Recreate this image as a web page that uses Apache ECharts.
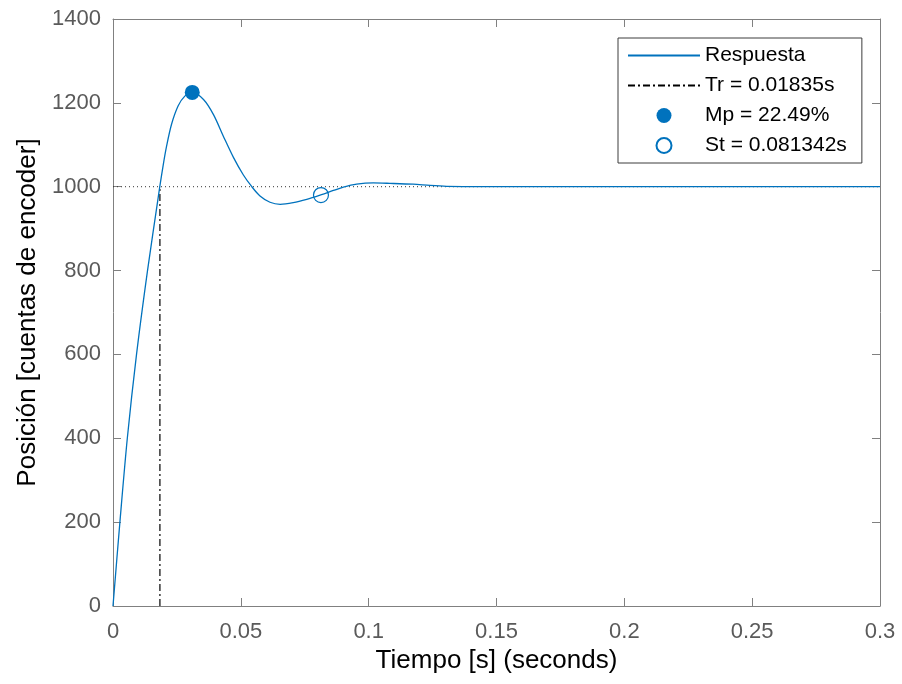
<!DOCTYPE html>
<html>
<head>
<meta charset="utf-8">
<script src="https://cdn.jsdelivr.net/npm/echarts@6/dist/echarts.min.js"></script>
<style>
html,body{margin:0;padding:0;background:#fff;}
#chart{width:902px;height:684px;}
</style>
</head>
<body>
<div id="chart"></div>
<script>
// Time (s) and response (encoder counts)
const time = [0, 0.0027, 0.0056, 0.0092, 0.0135, 0.0177, 0.0183, 0.0197, 0.0209, 0.0229, 0.0255, 0.0281, 0.031, 0.0354, 0.0393, 0.0432, 0.0471, 0.051, 0.0543, 0.0575, 0.0614, 0.0654, 0.0705, 0.0758, 0.081, 0.0862, 0.0901, 0.0953, 0.1018, 0.1083, 0.1174, 0.124, 0.1305, 0.1435, 0.16, 0.2, 0.25, 0.3];
const position = [0, 200, 400, 600, 800, 975, 1000, 1054, 1095, 1149, 1193, 1216, 1225, 1208, 1172, 1120, 1070, 1028, 1000, 978, 963, 958, 962, 970, 980, 991, 999, 1006, 1009, 1008, 1006, 1003, 1001, 1000, 1000, 1000, 1000, 1000];

const finalValue = 1000;
const trTime = 0.01835;
const mpTime = 0.031;
const mpValue = 1224.9;
const stTime = 0.081342;
const stValue = 980;

const legendNames = ['Respuesta', 'Tr = 0.01835s', 'Mp = 22.49%', 'St = 0.081342s'];
const xTicks = [0, 0.05, 0.1, 0.15, 0.2, 0.25, 0.3];
const yTicks = [0, 200, 400, 600, 800, 1000, 1200, 1400];

const blue = '#0072BD';
const axisGray = '#808080';
const labelGray = '#5a5a5a';
const FONT = '"Liberation Sans", Arial, Helvetica, sans-serif';

const chart = echarts.init(document.getElementById('chart'), null, {renderer: 'canvas'});

function fmtX(v) { return String(parseFloat(v.toFixed(4))); }
function fmtY(v) { return String(Math.round(v)); }

const commonX = {
  type: 'value', min: xTicks[0], max: xTicks[xTicks.length - 1], interval: 0.05,
  splitLine: {show: false},
  axisLine: {show: true, onZero: false, lineStyle: {color: axisGray, width: 1}},
  axisTick: {show: true, inside: true, length: 8, lineStyle: {color: axisGray}}
};
const commonY = {
  type: 'value', min: yTicks[0], max: yTicks[yTicks.length - 1], interval: 200,
  splitLine: {show: false},
  axisLine: {show: true, onZero: false, lineStyle: {color: axisGray, width: 1}},
  axisTick: {show: true, inside: true, length: 8, lineStyle: {color: axisGray}}
};

chart.setOption({
  animation: false,
  backgroundColor: '#fff',
  textStyle: {fontFamily: FONT},
  grid: {left: 113, right: 22, top: 19, bottom: 78, containLabel: false},
  legend: {
    data: [
      {name: legendNames[0], itemStyle: {opacity: 0}},
      {name: legendNames[1], itemStyle: {opacity: 0}},
      {name: legendNames[2]},
      {name: legendNames[3]}
    ],
    orient: 'vertical',
    left: 618, top: 38,
    itemWidth: 72, itemHeight: 15, itemGap: 9,
    padding: [7, 15, 7, 9],
    borderColor: '#3c3c3c', borderWidth: 1,
    backgroundColor: '#fff',
    textStyle: {fontSize: 21, color: '#000', fontFamily: FONT},
    selectedMode: false
  },
  xAxis: [
    Object.assign({}, commonX, {
      position: 'bottom',
      name: 'Tiempo [s] (seconds)', nameLocation: 'middle', nameGap: 42,
      nameTextStyle: {fontSize: 26, color: '#000', fontFamily: FONT},
      axisLabel: {show: true, fontSize: 22, color: labelGray, margin: 15, formatter: fmtX, fontFamily: FONT}
    }),
    Object.assign({}, commonX, {position: 'top', axisLabel: {show: false}})
  ],
  yAxis: [
    Object.assign({}, commonY, {
      position: 'left',
      name: 'Posición [cuentas de encoder]', nameLocation: 'middle', nameGap: 70,
      nameTextStyle: {fontSize: 26, color: '#000', fontFamily: FONT},
      axisLabel: {show: true, fontSize: 22, color: labelGray, margin: 12, formatter: fmtY, fontFamily: FONT}
    }),
    Object.assign({}, commonY, {position: 'right', axisLabel: {show: false}})
  ],
  series: [
    {
      name: '', type: 'line', xAxisIndex: 0, yAxisIndex: 0,
      data: [[xTicks[0], finalValue], [xTicks[xTicks.length - 1], finalValue]],
      symbol: 'none', silent: true,
      lineStyle: {color: '#333', width: 1, type: [1, 3]}, z: 1
    },
    {
      name: legendNames[0], type: 'line', xAxisIndex: 0, yAxisIndex: 0,
      data: time.map((t, i) => [t, position[i]]),
      symbol: 'none', smooth: 0.3,
      itemStyle: {color: blue},
      lineStyle: {color: blue, width: 1.3}, z: 3
    },
    {
      name: legendNames[1], type: 'line', xAxisIndex: 0, yAxisIndex: 0,
      data: [[trTime, 0], [trTime, finalValue]],
      symbol: 'none',
      itemStyle: {color: '#000'},
      lineStyle: {color: '#000', width: 1.2, type: [7, 3, 2, 3]}, z: 2
    },
    {
      name: legendNames[2], type: 'scatter', xAxisIndex: 0, yAxisIndex: 0,
      data: [[mpTime, mpValue]],
      symbol: 'circle', symbolSize: 15,
      itemStyle: {color: blue, opacity: 1}, z: 4
    },
    {
      name: legendNames[3], type: 'scatter', xAxisIndex: 0, yAxisIndex: 0,
      data: [[stTime, stValue]],
      symbol: 'circle', symbolSize: 15,
      itemStyle: {color: 'rgba(0,0,0,0)', borderColor: blue, borderWidth: 1.2, opacity: 1}, z: 4
    }
  ]
});
</script>
</body>
</html>
